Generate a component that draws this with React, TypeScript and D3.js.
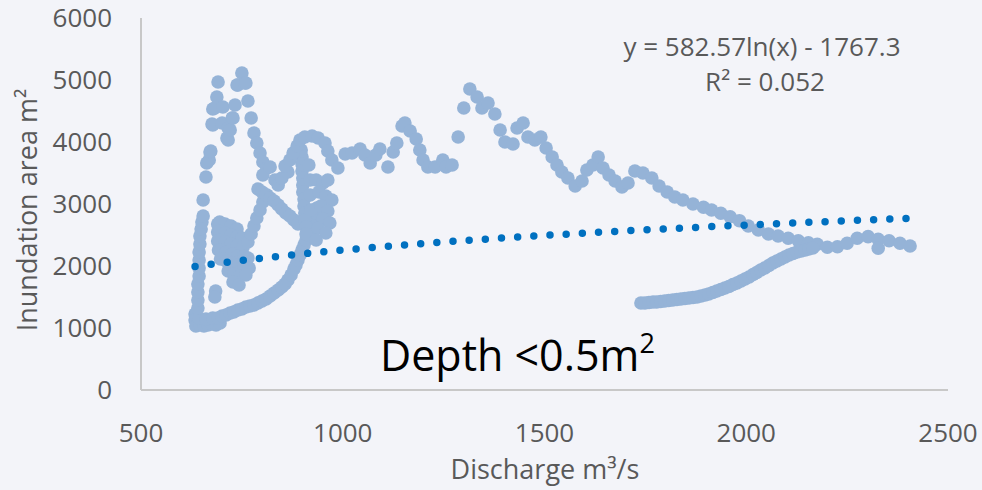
import React from "react";
import * as d3 from "d3";

type Pt = [number, number]; // [discharge m3/s, inundated area m2]

// Low-flow cluster at the start of the record
const baseCluster: Pt[] = [
  [634, 1226], [634, 1129], [636, 1032], [646, 1048], [656, 1032], [666, 1048],
  [676, 1065], [686, 1048], [696, 1081], [644, 1161], [661, 1145], [678, 1161],
];

// Near-vertical rise at ~640 m3/s
const risingColumn: Pt[] = [
  [641, 1323], [641, 1452], [641, 1581], [641, 1710], [644, 1839], [644, 1968],
  [644, 2097], [644, 2226], [646, 2355], [646, 2484], [649, 2597], [651, 2710], [654, 2806],
];

// First flood peak (~5100 m2)
const firstPeak: Pt[] = [
  [654, 3065], [661, 3435], [663, 3661], [669, 3710], [671, 3839], [673, 3855],
  [676, 4290], [678, 4274], [678, 4532], [683, 4548], [688, 4726], [691, 4968],
  [703, 4565], [701, 4306], [713, 4065], [716, 4226], [716, 4032], [721, 4194],
  [726, 4387], [728, 4387], [733, 4597], [738, 4919], [740, 4919], [750, 5113],
  [758, 4952], [760, 4952], [765, 4661], [773, 4387], [780, 4145], [787, 3984],
  [795, 3823], [802, 3677], [812, 3581], [802, 3468], [820, 3597], [812, 3145],
  [832, 3387], [840, 3306],
];

// Recession cluster between 690 and 800 m3/s
const recessionBlob: Pt[] = [
  [690, 2677], [695, 2710], [708, 2677], [723, 2645], [738, 2597],
  [690, 2548], [695, 2565], [708, 2532], [723, 2500], [738, 2468], [750, 2452],
  [690, 2403], [695, 2419], [708, 2387], [723, 2355], [738, 2323], [753, 2306],
  [692, 2258], [697, 2258], [711, 2226], [726, 2194], [740, 2161], [755, 2161], [765, 2129],
  [697, 2113], [711, 2081], [726, 2048], [740, 2016], [755, 2000], [768, 1968],
  [716, 1919], [730, 1871], [745, 1839], [760, 1855],
  [728, 1742], [743, 1694],
  [685, 1597], [683, 1500],
  [765, 2387], [773, 2516], [780, 2645], [787, 2774], [795, 2903], [802, 3032],
];

// Falling diagonal toward 900 m3/s
const diagonalLimb: Pt[] = [
  [790, 3242], [800, 3194], [810, 3145], [820, 3097], [830, 3048], [840, 2984],
  [849, 2919], [859, 2855], [869, 2806], [879, 2742], [889, 2677],
];

// Lower hysteresis branch rising from the base cluster
const lowerLoop: Pt[] = [
  [691, 1161], [701, 1194], [711, 1210], [721, 1242], [730, 1258], [740, 1290],
  [750, 1306], [760, 1339], [770, 1355], [780, 1371], [790, 1403], [800, 1435],
  [810, 1468], [820, 1516], [830, 1565], [840, 1613], [849, 1661], [857, 1710],
  [864, 1774], [872, 1855], [879, 1952], [884, 2016], [889, 2097], [894, 2177],
  [899, 2258], [904, 2339], [909, 2419], [914, 2500], [919, 2581], [924, 2661],
  [929, 2758], [934, 2855], [936, 2935],
];

// Dense column near 900-975 m3/s
const midColumn: Pt[] = [
  [897, 3871], [899, 3758], [899, 3645], [899, 3532], [901, 3419], [901, 3306],
  [901, 3194], [904, 3081], [904, 2968], [906, 2855], [906, 2742], [909, 2629], [909, 2516],
  [916, 3629], [919, 3387], [919, 3145], [921, 2903],
  [934, 3387], [951, 3339], [963, 3387], [941, 3194], [958, 3129], [973, 3065],
  [946, 2968], [963, 2887], [951, 2758], [968, 2694], [939, 2613], [958, 2532], [934, 2419],
  [849, 3419], [864, 3516],
];

// Plateau between 850 and 1270 m3/s
const plateau: Pt[] = [
  [857, 3613], [869, 3710], [877, 3823], [887, 3935], [894, 4032], [906, 4081],
  [924, 4097], [939, 4065], [956, 3984], [963, 3855], [973, 3710], [988, 3581],
  [1006, 3806], [1023, 3823], [1043, 3887], [1055, 3790], [1068, 3661], [1082, 3790],
  [1092, 3887], [1112, 3597], [1125, 3839], [1134, 3984], [1147, 4258], [1154, 4306],
  [1167, 4177], [1182, 4048], [1191, 3871], [1199, 3710], [1211, 3597], [1229, 3597],
  [1248, 3710], [1256, 3597], [1271, 3629],
];

// Second peak and long recession to 2400 m3/s
const upperBranch: Pt[] = [
  [1286, 4081], [1300, 4548], [1315, 4855], [1333, 4726], [1345, 4548], [1360, 4629],
  [1377, 4452], [1390, 4194], [1402, 4000], [1422, 3968], [1432, 4226], [1447, 4306],
  [1459, 4081], [1476, 4032], [1491, 4081], [1504, 3903], [1519, 3758], [1531, 3629],
  [1543, 3516], [1558, 3419], [1576, 3290], [1593, 3371], [1605, 3548], [1620, 3629],
  [1633, 3758], [1645, 3581], [1660, 3468], [1675, 3371], [1692, 3274], [1707, 3339],
  [1724, 3532], [1744, 3500], [1766, 3419], [1784, 3290], [1804, 3194], [1823, 3113],
  [1843, 3065], [1868, 3000], [1894, 2947], [1914, 2903], [1937, 2850], [1960, 2795],
  [1983, 2731], [2005, 2645], [2030, 2581], [2055, 2516], [2079, 2484], [2104, 2447],
  [2129, 2408], [2154, 2376], [2176, 2350], [2201, 2302], [2226, 2311], [2250, 2366],
  [2275, 2447], [2302, 2473], [2327, 2431], [2327, 2286], [2354, 2408], [2381, 2366],
  [2406, 2323],
];

// Lower branch on the high-discharge side
const highFlowRise: Pt[] = [
  [1739, 1403], [1749, 1403], [1759, 1411], [1769, 1419], [1778, 1419], [1788, 1427],
  [1798, 1436], [1808, 1444], [1818, 1452], [1828, 1460], [1838, 1468], [1848, 1476],
  [1858, 1484], [1868, 1492], [1878, 1500], [1888, 1516], [1898, 1532], [1907, 1548],
  [1917, 1573], [1927, 1597], [1937, 1621], [1947, 1645], [1957, 1669], [1967, 1702],
  [1977, 1726], [1987, 1758], [1997, 1790], [2007, 1823], [2017, 1863], [2026, 1895],
  [2036, 1936], [2046, 1968], [2056, 2008], [2066, 2049], [2076, 2081], [2086, 2113],
  [2096, 2145], [2106, 2178], [2116, 2202], [2126, 2226], [2136, 2242], [2146, 2258],
  [2155, 2274], [2165, 2290],
];

const segments: Pt[][] = [
  baseCluster, risingColumn, firstPeak, recessionBlob, diagonalLimb,
  lowerLoop, midColumn, plateau, upperBranch, highFlowRise,
];

const xTicks = [500, 1000, 1500, 2000, 2500];
const yTicks = [0, 1000, 2000, 3000, 4000, 5000, 6000];

// Logarithmic trendline fitted to the series
const trendSlope = 582.57;
const trendIntercept = -1767.3;
const rSquared = 0.052;

const W = 982;
const H = 490;
const FONT = "'Open Sans', 'DejaVu Sans', sans-serif";

export default function App() {
  const x = d3.scaleLinear().domain([500, 2500]).range([141, 948]);
  const y = d3.scaleLinear().domain([0, 6000]).range([390, 18]);

  const points = segments.flat();
  const [xMin, xMax] = d3.extent(points, (d) => d[0]) as [number, number];
  const trendX = d3.range(0, 201).map((i) => xMin + ((xMax - xMin) * i) / 200);
  const trendPath = d3
    .line<number>()
    .x((q) => x(q))
    .y((q) => y(trendSlope * Math.log(q) + trendIntercept))(trendX) as string;

  const eq = `y = ${trendSlope}ln(x) - ${Math.abs(trendIntercept)}`;

  return (
    <svg
      width={W}
      height={H}
      style={{ position: "absolute", left: 0, top: 0, display: "block" }}
      fontFamily={FONT}
    >
      <rect x={0} y={0} width={W} height={H} fill="#f3f4f9" />

      {/* axes */}
      <line x1={x(500)} x2={x(500)} y1={y(6000)} y2={y(0)} stroke="#c8c8c8" strokeWidth={2} />
      <line x1={x(500)} x2={x(2500)} y1={y(0)} y2={y(0)} stroke="#c8c8c8" strokeWidth={2} />

      {yTicks.map((t) => (
        <text key={`y${t}`} x={112} y={y(t)} dy="0.36em" textAnchor="end" fontSize={26} fill="#595959">
          {t}
        </text>
      ))}
      {xTicks.map((t) => (
        <text key={`x${t}`} x={x(t)} y={442} textAnchor="middle" fontSize={26} fill="#595959">
          {t}
        </text>
      ))}

      <text x={545} y={479} textAnchor="middle" fontSize={27} fill="#595959">
        Discharge m³/s
      </text>
      <text
        transform={`translate(37, ${(y(0) + y(6000)) / 2 + 6}) rotate(-90)`}
        textAnchor="middle"
        fontSize={27}
        fill="#595959"
      >
        Inundation area m²
      </text>

      {/* scatter */}
      <g fill="#95b3d7">
        {points.map((d, i) => (
          <circle key={i} cx={x(d[0])} cy={y(d[1])} r={6.8} />
        ))}
      </g>

      {/* trendline */}
      <path
        d={trendPath}
        fill="none"
        stroke="#0070c0"
        strokeWidth={7.5}
        strokeLinecap="round"
        strokeDasharray="0 16.2"
      />

      <text x={762} y={56} textAnchor="middle" fontSize={26} fill="#595959">
        {eq}
      </text>
      <text x={765} y={91} textAnchor="middle" fontSize={26} fill="#595959">
        R² = {rSquared}
      </text>

      <text x={380} y={371} fontSize={43} fill="#000000">
        Depth &lt;0.5m
        <tspan fontSize={27} dy={-18}>2</tspan>
      </text>
    </svg>
  );
}
